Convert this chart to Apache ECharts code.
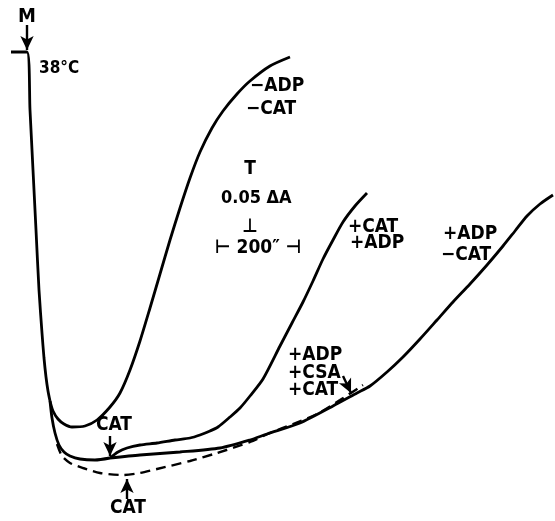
<!DOCTYPE html>
<html>
<head>
<meta charset="utf-8">
<script src="https://cdn.jsdelivr.net/npm/echarts@6/dist/echarts.min.js"></script>
<style>html,body{margin:0;padding:0;background:#fff}#c{width:555px;height:521px}</style>
</head>
<body>
<div id="c"></div>
<script>
// Time axis (chart units) and absorbance axis (chart units, inverted)
const trunk = [[11,52],[27,52],[30,110],[33,170],[36,230],[39,290],[42,333],[44,358],[46,377],[48,391],[50,401]];
const curveMinusAdpMinusCat = [[50,401],[53,411],[58,419],[64,424],[72,427],[85,426],[97,420],[110,407],[120,393],[130,370],[140,341],[150,308],[160,274],[170,240],[180,208],[190,178],[200,152],[212,128],[223,111],[237,94],[250,81],[270,66],[290,57]];
const baseline = [[50,401],[52,418],[55,433],[59,445],[64,452],[70,456],[80,459],[95,460],[110,458]];
const curveCatAdp = [[110,458],[118,452],[127,448],[140,445],[157,443],[175,440],[190,438],[200,435],[210,431],[218,427],[230,417],[240,408],[250,396],[263,379],[280,346],[292,323],[303,302],[313,281],[323,259],[333,240],[343,222],[355,206],[367,193]];
const curveAdpMinusCat = [[110,458],[140,455],[180,452],[220,448],[250,440],[267,434],[300,423],[333,406],[357,393],[370,386],[387,372],[403,357],[420,339],[437,320],[453,302],[470,284],[487,265],[503,246],[515,231],[527,216],[540,204],[553,195]];
const curveCsa = [[57,444],[62,456],[70,463],[83,468],[100,473],[123,475],[140,473],[157,469],[190,461],[217,453],[250,442],[270,433],[293,424],[317,414],[340,400],[363,385]];

const FONT = '"DejaVu Sans Condensed","DejaVu Sans",sans-serif';
function txt(t, x, y, size, align) {
  return {type:'text', z:10, style:{text:t, x:x, y:y, font:'bold '+size+'px '+FONT, fill:'#000', align:align||'left', verticalAlign:'top'}};
}
const line = (data, extra) => Object.assign({type:'line', data:data, smooth:0.25, showSymbol:false, symbol:'none', animation:false,
  lineStyle:{color:'#000', width:2.8}}, extra||{});

const chart = echarts.init(document.getElementById('c'), null, {renderer:'canvas'});
chart.setOption({
  backgroundColor:'#fff',
  animation:false,
  grid:{left:0,right:0,top:0,bottom:0},
  xAxis:{type:'value', min:0, max:555, show:false},
  yAxis:{type:'value', min:0, max:521, inverse:true, show:false},
  series:[
    line(trunk),
    line(curveMinusAdpMinusCat),
    line(baseline),
    line(curveCatAdp),
    line(curveAdpMinusCat),
    line(curveCsa, {lineStyle:{color:'#000', width:2.4, type:[10,6]}}),
    {type:'line', data:[], markLine:{silent:true, animation:false, symbol:['none','arrow'], symbolSize:[10,14], label:{show:false},
      lineStyle:{color:'#000', width:2.4, type:'solid'},
      data:[
        [{coord:[27,25]},{coord:[27,50]}],
        [{coord:[110,436]},{coord:[110,456]}],
        [{coord:[127,499]},{coord:[127,479]}],
        [{coord:[343,376]},{coord:[351,393]}]
      ]}}
  ],
  graphic:[
    txt('M', 27, 7, 20, 'center'),
    txt('38°C', 39, 60, 17),
    txt('\u2212ADP', 250, 77, 19),
    txt('\u2212CAT', 246, 100, 19),
    txt('T', 250, 160, 19, 'center'),
    txt('0.05 ΔA', 221, 189, 18),
    txt('\u22A5', 250, 218, 19, 'center'),
    txt('\u22A2 200\u2033 \u22A3', 215, 239, 19),
    txt('+CAT', 348, 218, 19),
    txt('+ADP', 350, 234, 19),
    txt('+ADP', 443, 225, 19),
    txt('\u2212CAT', 441, 246, 19),
    txt('+ADP', 288, 346, 19),
    txt('+CSA', 288, 364, 19),
    txt('+CAT', 288, 381, 19),
    txt('CAT', 96, 416, 19),
    txt('CAT', 110, 499, 19)
  ]
});
</script>
</body>
</html>
